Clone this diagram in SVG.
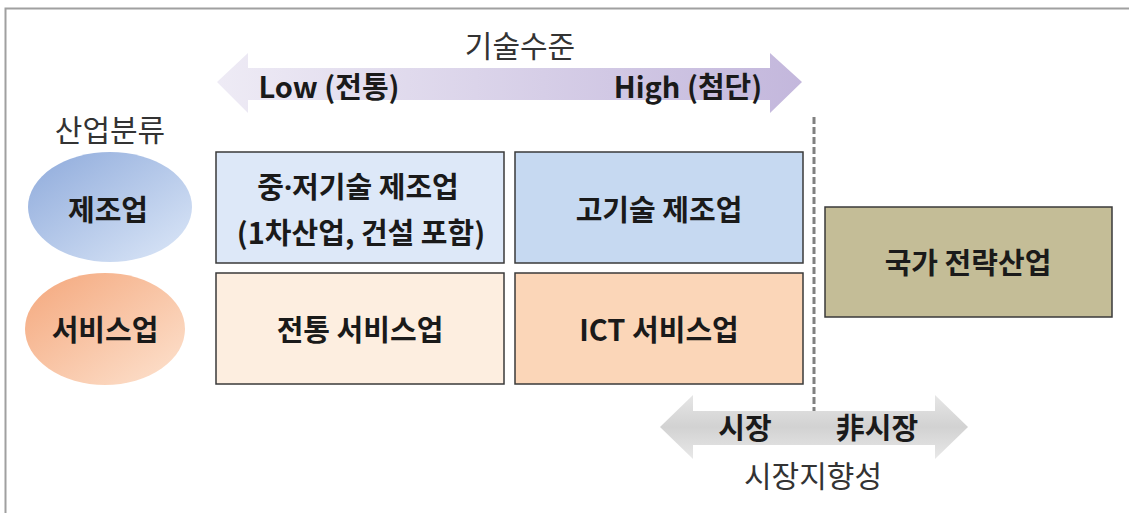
<svg xmlns="http://www.w3.org/2000/svg" width="1129" height="513" viewBox="0 0 1129 513">
<defs>
<linearGradient id="gTop" x1="0" y1="0" x2="1" y2="0">
<stop offset="0" stop-color="#eeebf5"/>
<stop offset="1" stop-color="#c3b7dc"/>
</linearGradient>
<linearGradient id="gBot" x1="0" y1="0" x2="0" y2="1">
<stop offset="0" stop-color="#e6e6e6"/>
<stop offset="0.5" stop-color="#d2d2d2"/>
<stop offset="1" stop-color="#e8e8e8"/>
</linearGradient>
<linearGradient id="gBlue" x1="0" y1="0" x2="1" y2="1">
<stop offset="0" stop-color="#8eaadb"/>
<stop offset="1" stop-color="#dde8f8"/>
</linearGradient>
<linearGradient id="gOrange" x1="0" y1="0" x2="1" y2="1">
<stop offset="0" stop-color="#f4a77c"/>
<stop offset="1" stop-color="#fde3d0"/>
</linearGradient>
<style>
text{font-family:"Noto Sans CJK KR","Noto Sans",sans-serif;fill:#1a1a1a;text-anchor:middle}
.b{font-weight:bold;font-size:29px}
.r{font-size:30px;fill:#333}
.box{stroke:#3a3a3a;stroke-width:1.5}
.dot{font-family:"Noto Sans",sans-serif}
</style>
</defs>
<rect x="0" y="0" width="1129" height="513" fill="#ffffff"/>
<path d="M5.5 513 V8.5 H1129" fill="none" stroke="#a0a0a0" stroke-width="2"/>

<g id="connectors">
<g id="tech-arrow">
<polygon points="217,82 248,53 248,68 770,68 770,53 802,82 770,113 770,100 248,100 248,113" fill="url(#gTop)"/>
<text class="r" x="520" y="57">기술수준</text>
<text class="b" x="329" y="98">Low (전통)</text>
<text class="b" x="688" y="98">High (첨단)</text>
</g>
<line x1="814" y1="117" x2="814" y2="447" stroke="#808080" stroke-width="3" stroke-dasharray="7,3"/>
<g id="market-arrow">
<polygon points="660,427 693,395 693,411 935,411 935,395 968,427 935,459 935,445 693,445 693,459" fill="url(#gBot)"/>
<text class="b" x="745" y="439">시장</text>
<text class="b" x="877" y="439">非시장</text>
<text class="r" x="813" y="487">시장지향성</text>
</g>
</g>

<text class="r" x="110" y="141">산업분류</text>

<g id="manufacturing">
<ellipse cx="110" cy="207" rx="82" ry="55" fill="url(#gBlue)"/>
<text class="b" x="108" y="221">제조업</text>
</g>
<g id="service">
<ellipse cx="105" cy="329" rx="80" ry="56" fill="url(#gOrange)"/>
<text class="b" x="105" y="341">서비스업</text>
</g>

<g id="low-tech-mfg">
<rect class="box" x="216" y="152" width="288" height="111" fill="#dde8f8"/>
<text class="b" x="358" y="198">중<tspan class="dot">·</tspan>저기술 제조업</text>
<text class="b" x="361" y="244">(1차산업, 건설 포함)</text>
</g>
<g id="high-tech-mfg">
<rect class="box" x="515" y="152" width="288" height="111" fill="#c6d9f1"/>
<text class="b" x="659" y="221">고기술 제조업</text>
</g>
<g id="trad-service">
<rect class="box" x="216" y="273" width="288" height="111" fill="#fdeee0"/>
<text class="b" x="360" y="341">전통 서비스업</text>
</g>
<g id="ict-service">
<rect class="box" x="515" y="273" width="288" height="111" fill="#fbd6b8"/>
<text class="b" x="659" y="341">ICT 서비스업</text>
</g>
<g id="strategic">
<rect class="box" x="825" y="207" width="287" height="110" fill="#c4bd97"/>
<text class="b" x="968" y="274">국가 전략산업</text>
</g>
</svg>
